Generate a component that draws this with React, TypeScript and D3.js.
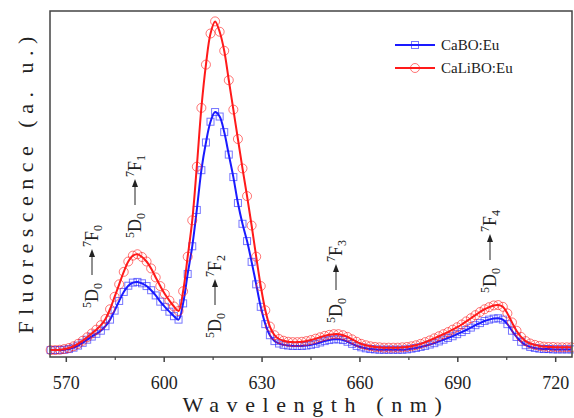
import React from 'react';
import * as d3 from 'd3';

// sampling grid (nm) of the measured spectra
const wavelengths: number[] = d3.range(0, 115).map((i) => 565.2 + i * 1.4);

const caBO: number[] = [
  2.0, 2.0, 2.0, 2.1, 2.3, 2.7, 3.3, 4.1, 5.0, 5.9,
  6.7, 7.6, 8.9, 10.8, 13.4, 16.2, 18.8, 20.6, 21.5, 21.7,
  21.3, 20.5, 19.3, 17.8, 16.0, 14.5, 13.1, 11.8, 10.8, 15.5,
  24.0, 32.0, 42.5, 54.0, 62.0, 68.0, 70.8, 69.5, 65.0, 58.5,
  52.0, 44.5, 38.5, 33.5, 27.5, 21.0, 14.5, 9.5, 6.3, 4.6,
  3.9, 3.5, 3.3, 3.2, 3.2, 3.2, 3.3, 3.5, 3.8, 4.2,
  4.6, 4.9, 5.1, 5.1, 4.9, 4.4, 3.8, 3.2, 2.8, 2.5,
  2.3, 2.2, 2.1, 2.1, 2.1, 2.1, 2.1, 2.1, 2.2, 2.4,
  2.6, 2.9, 3.2, 3.6, 4.0, 4.5, 5.0, 5.5, 6.0, 6.6,
  7.2, 7.8, 8.5, 9.2, 9.8, 10.4, 10.8, 11.1, 11.2, 10.8,
  9.5, 7.6, 5.8, 4.4, 3.4, 2.9, 2.6, 2.4, 2.3, 2.3,
  2.2, 2.2, 2.2, 2.2, 2.2,
];

const caLiBO: number[] = [
  2.0, 2.0, 2.1, 2.3, 2.6, 3.1, 3.8, 4.7, 5.7, 6.8,
  7.9, 9.2, 11.0, 13.8, 17.4, 21.0, 24.6, 27.6, 29.3, 29.7,
  28.9, 27.6, 25.6, 23.0, 20.5, 18.2, 16.3, 14.6, 13.3, 19.0,
  29.0, 39.5, 55.0, 72.0, 84.5, 93.5, 97.0, 94.0, 88.5, 80.0,
  71.5, 63.0, 54.5, 46.5, 38.0, 29.0, 20.5, 13.5, 8.8, 6.3,
  5.2, 4.7, 4.4, 4.3, 4.3, 4.4, 4.6, 4.9, 5.3, 5.7,
  6.1, 6.4, 6.6, 6.6, 6.3, 5.8, 5.1, 4.4, 3.8, 3.4,
  3.1, 2.9, 2.8, 2.7, 2.7, 2.7, 2.7, 2.8, 2.9, 3.1,
  3.4, 3.8, 4.3, 4.8, 5.4, 6.0, 6.6, 7.2, 7.9, 8.6,
  9.4, 10.3, 11.2, 12.1, 13.0, 13.8, 14.4, 14.9, 15.0, 14.5,
  12.6, 10.0, 7.6, 5.8, 4.6, 3.9, 3.5, 3.2, 3.0, 2.9,
  2.9, 2.8, 2.8, 2.8, 2.8,
];

const xTicks = [570, 600, 630, 660, 690, 720];
const xMinorTicks = [585, 615, 645, 675, 705];

const transitions = [
  { level: '0', x: 98, y: 308 },
  { level: '1', x: 141, y: 238 },
  { level: '2', x: 221, y: 338 },
  { level: '3', x: 342, y: 323 },
  { level: '4', x: 496, y: 293 },
];

const W = 574;
const H = 418;
const margin = { top: 11, right: 2, bottom: 61, left: 50 };
const FONT = "'Times New Roman', 'Liberation Serif', 'DejaVu Serif', Times, serif";

const BLUE = '#1a1aff';
const RED = '#ff1a1a';

const Transition: React.FC<{ level: string; x: number; y: number }> = ({ level, x, y }) => (
  <g transform={`translate(${x},${y}) rotate(-90)`} fill="#222">
    <text x={0} y={0} fontSize={18}>
      <tspan fontSize={12} dy={-7}>5</tspan>
      <tspan dy={7}>D</tspan>
      <tspan fontSize={12} dy={4}>0</tspan>
    </text>
    <line x1={33} x2={52} y1={-6} y2={-6} stroke="#222" strokeWidth={1} />
    <path d="M59,-6 L51,-9 L51,-3 Z" fill="#222" />
    <text x={61} y={0} fontSize={18}>
      <tspan fontSize={12} dy={-7}>7</tspan>
      <tspan dy={7}>F</tspan>
      <tspan fontSize={12} dy={4}>{level}</tspan>
    </text>
  </g>
);

const App: React.FC = () => {
  const x = d3.scaleLinear().domain([565, 725]).range([margin.left, W - margin.right]);
  const y = d3.scaleLinear().domain([0, 100]).range([H - margin.bottom, margin.top]);

  const line = d3
    .line<number>()
    .x((_, i) => x(wavelengths[i]))
    .y((d) => y(d))
    .curve(d3.curveCatmullRom);

  const bottom = H - margin.bottom;

  return (
    <svg
      width={W}
      height={H}
      style={{ position: 'absolute', left: 0, top: 0, background: '#fff', fontFamily: FONT }}
    >
      {/* blue series */}
      <g>
        {caBO.map((v, i) => (
          <rect
            key={i}
            x={x(wavelengths[i]) - 3.5}
            y={y(v) - 3.5}
            width={7}
            height={7}
            fill="none"
            stroke={BLUE}
            strokeOpacity={0.6}
            strokeWidth={1}
          />
        ))}
        <path d={line(caBO) || ''} fill="none" stroke={BLUE} strokeWidth={2} />
      </g>
      {/* red series */}
      <g>
        {caLiBO.map((v, i) => (
          <circle
            key={i}
            cx={x(wavelengths[i])}
            cy={y(v)}
            r={4.5}
            fill="none"
            stroke={RED}
            strokeOpacity={0.6}
            strokeWidth={1}
          />
        ))}
        <path d={line(caLiBO) || ''} fill="none" stroke={RED} strokeWidth={2} />
      </g>

      {/* frame */}
      <rect
        x={margin.left}
        y={margin.top}
        width={W - margin.left - margin.right}
        height={bottom - margin.top}
        fill="none"
        stroke="#444"
        strokeWidth={1.5}
      />

      {/* x axis ticks */}
      {xTicks.map((t) => (
        <g key={t}>
          <line x1={x(t)} x2={x(t)} y1={bottom} y2={bottom + 5} stroke="#444" strokeWidth={1.5} />
          <text x={x(t)} y={389} textAnchor="middle" fontSize={18} fill="#222">
            {t}
          </text>
        </g>
      ))}
      {xMinorTicks.map((t) => (
        <line key={t} x1={x(t)} x2={x(t)} y1={bottom} y2={bottom + 3} stroke="#444" strokeWidth={1.2} />
      ))}

      {/* axis titles */}
      <text x={316} y={412} textAnchor="middle" fontSize={22} letterSpacing={7.6} fill="#222">
        Wavelength (nm)
      </text>
      <text
        transform="translate(33,182) rotate(-90)"
        textAnchor="middle"
        fontSize={22}
        letterSpacing={6.5}
        fill="#222"
      >
        Fluorescence (a. u.)
      </text>

      {/* transition labels */}
      {transitions.map((t) => (
        <Transition key={t.level} {...t} />
      ))}

      {/* legend */}
      <g fontSize={15} fill="#222">
        <line x1={395} x2={435} y1={45} y2={45} stroke={BLUE} strokeWidth={2} />
        <rect x={411.5} y={41.5} width={7} height={7} fill="none" stroke={BLUE} strokeOpacity={0.6} />
        <text x={441} y={50}>CaBO:Eu</text>
        <line x1={395} x2={435} y1={68} y2={68} stroke={RED} strokeWidth={2} />
        <circle cx={415} cy={68} r={4.5} fill="none" stroke={RED} strokeOpacity={0.6} />
        <text x={441} y={73}>CaLiBO:Eu</text>
      </g>
    </svg>
  );
};

export default App;
